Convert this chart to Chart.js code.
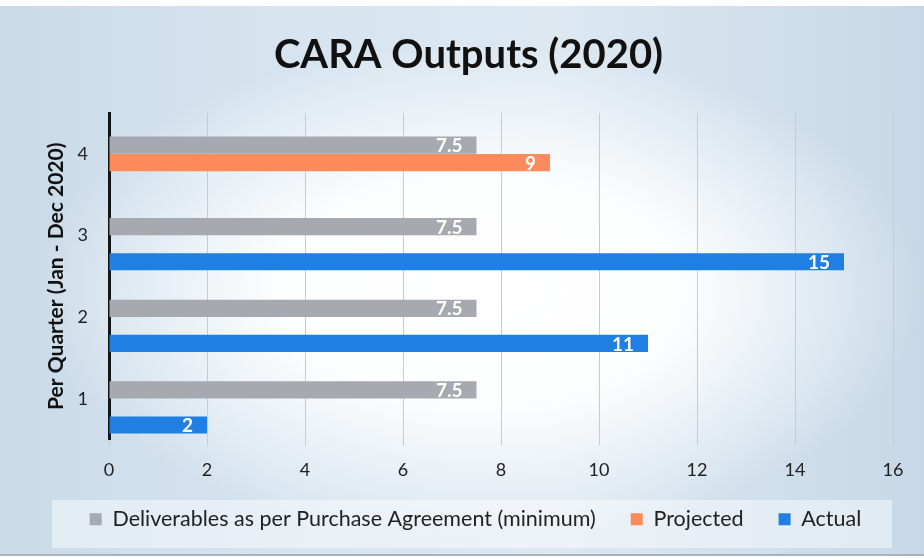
<!DOCTYPE html>
<html>
<head>
<meta charset="utf-8">
<script src="https://cdn.jsdelivr.net/npm/chart.js@4/dist/chart.umd.min.js"></script>
<style>
  html, body { margin: 0; padding: 0; }
  body { width: 924px; height: 558px; overflow: hidden; background: #fff; }
  #wrap {
    position: absolute; left: 0; top: 6px; width: 924px; height: 548px;
    background:
      radial-gradient(ellipse 48% 45% at 52% 52%, rgba(255,255,255,1) 0%, rgba(255,255,255,0.95) 45%, rgba(255,255,255,0) 100%),
      linear-gradient(90deg, #c9dae8 0%, #d6e4ef 30%, #dde8f1 60%, #c6d8e7 100%);
    border-bottom: 2px solid #a9b3bd;
  }
  #legbox { position: absolute; left: 52px; top: 494px; width: 840px; height: 48px; background: rgba(255,255,255,0.45); }
  canvas { position: absolute; left: 0; top: 0; }
</style>
</head>
<body>
<div id="wrap"><div id="legbox"></div></div>
<canvas id="c" width="924" height="558"></canvas>
<script>
const categories = ['4', '3', '2', '1'];
const deliverables = [7.5, 7.5, 7.5, 7.5];
const projected = [9, null, null, null];
const actual = [null, 15, 11, 2];
const spacer = [null, null, null, null];
const xTicks = [0, 2, 4, 6, 8, 10, 12, 14, 16];

const FONT = 'Lato, "Open Sans", sans-serif';

const labelPlugin = {
  id: 'barLabels',
  afterDatasetsDraw(chart) {
    const ctx = chart.ctx;
    ctx.save();
    ctx.font = 'bold 19px ' + FONT;
    ctx.fillStyle = '#ffffff';
    ctx.textAlign = 'right';
    ctx.textBaseline = 'middle';
    chart.data.datasets.forEach((ds, di) => {
      if (ds.isSpacer) return;
      const meta = chart.getDatasetMeta(di);
      meta.data.forEach((bar, i) => {
        const v = ds.data[i];
        if (v === null || v === undefined) return;
        ctx.fillText(String(v), bar.x - 14, bar.y + 1);
      });
    });
    ctx.restore();
  }
};

// Legend needs wide horizontal gaps but compact vertical spacing: nudge it after layout.
const legendShift = {
  id: 'legendShift',
  afterLayout(chart) {
    const l = chart.legend;
    if (!l) return;
    l.top -= 11; l.bottom -= 11;
    l.left += 7; l.right += 7;
  }
};

new Chart(document.getElementById('c'), {
  type: 'bar',
  data: {
    labels: categories,
    datasets: [
      { label: '', data: spacer, isSpacer: true, backgroundColor: 'rgba(0,0,0,0)' },
      { label: 'Deliverables as per Purchase Agreement (minimum)', data: deliverables, backgroundColor: '#a6a9af' },
      { label: 'Projected', data: projected, backgroundColor: '#fc8a5a' },
      { label: 'Actual', data: actual, backgroundColor: '#1f7fe3' }
    ]
  },
  options: {
    indexAxis: 'y',
    responsive: false,
    animation: false,
    events: [],
    datasets: { bar: { categoryPercentage: 0.86, barPercentage: 0.98 } },
    layout: { padding: { left: 44, right: 31, top: 0, bottom: 7 } },
    plugins: {
      title: {
        display: true,
        text: 'CARA Outputs (2020)',
        color: '#111',
        font: { family: FONT, size: 40, weight: 'bold' },
        padding: { top: 31, bottom: 34 }
      },
      legend: {
        position: 'bottom',
        labels: {
          filter: (item) => item.text !== '',
          color: '#222',
          font: { family: FONT, size: 21.5 },
          boxWidth: 12, boxHeight: 12,
          padding: 35
        }
      },
      tooltip: { enabled: false }
    },
    scales: {
      x: {
        min: 0, max: 16,
        afterBuildTicks: (s) => { s.ticks = xTicks.map(v => ({ value: v })); },
        afterFit: (s) => { s.height = 45; },
        grid: { color: '#c7ccd3', lineWidth: 1, drawTicks: true, tickLength: 6 },
        border: { display: false },
        ticks: { color: '#222', font: { family: FONT, size: 18 }, padding: 14 }
      },
      y: {
        afterFit: (s) => { s.width = 65; },
        grid: { display: false, drawTicks: false },
        border: { display: true, color: '#151515', width: 3 },
        ticks: { color: '#222', font: { family: FONT, size: 18 }, padding: 21 },
        title: {
          display: true,
          text: 'Per Quarter (Jan - Dec 2020)',
          color: '#111',
          font: { family: FONT, size: 21, weight: 'bold' },
          padding: { top: 0, bottom: 8 }
        }
      }
    }
  },
  plugins: [labelPlugin, legendShift]
});
</script>
</body>
</html>
